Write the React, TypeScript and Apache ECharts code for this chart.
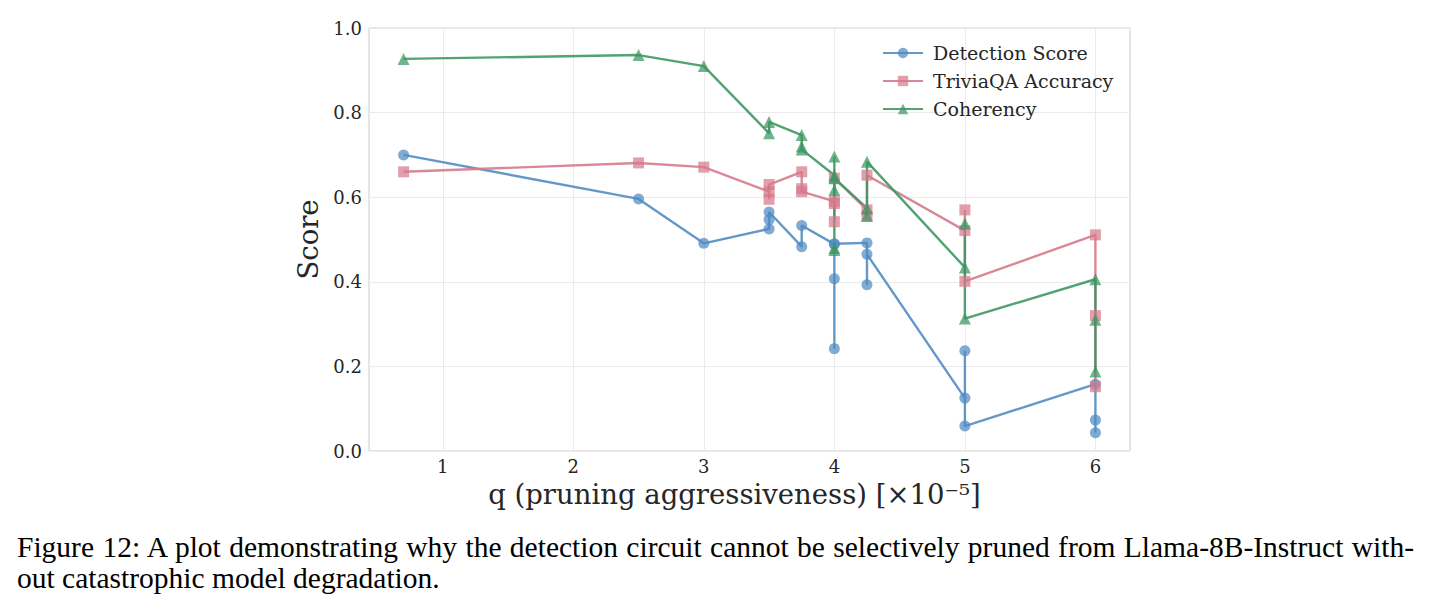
import React, { useEffect, useRef } from "react";
import * as echarts from "echarts";

// q values (×10⁻⁵) and scores for each run, in plotting order
const detectionX = [0.7, 2.5, 3, 3.5, 3.5, 3.5, 3.75, 3.75, 4, 4, 4, 4, 4.25, 4.25, 4.25, 5, 5, 5, 6, 6, 6];
const detectionY = [0.700, 0.596, 0.491, 0.525, 0.547, 0.565, 0.483, 0.533, 0.489, 0.242, 0.407, 0.490, 0.492, 0.393, 0.465, 0.125, 0.237, 0.059, 0.158, 0.073, 0.043];

const triviaX = [0.7, 2.5, 3, 3.5, 3.5, 3.5, 3.75, 3.75, 3.75, 4, 4, 4, 4, 4.25, 4.25, 4.25, 5, 5, 5, 6, 6, 6];
const triviaY = [0.660, 0.681, 0.671, 0.613, 0.595, 0.630, 0.660, 0.620, 0.613, 0.590, 0.585, 0.542, 0.645, 0.570, 0.555, 0.652, 0.521, 0.570, 0.401, 0.511, 0.320, 0.152];

const coherencyX = [0.7, 2.5, 3, 3.5, 3.5, 3.75, 3.75, 3.75, 4, 4, 4, 4, 4, 4, 4.25, 4.25, 4.25, 5, 5, 5, 6, 6, 6];
const coherencyY = [0.927, 0.936, 0.910, 0.751, 0.778, 0.747, 0.720, 0.713, 0.652, 0.696, 0.617, 0.480, 0.475, 0.645, 0.574, 0.556, 0.684, 0.434, 0.538, 0.313, 0.406, 0.310, 0.188];

const xTicks = [1, 2, 3, 4, 5, 6];

const captionLine1 =
  "Figure 12: A plot demonstrating why the detection circuit cannot be selectively pruned from Llama-8B-Instruct with-";
const captionLine2 = "out catastrophic model degradation.";

const FONT = "DejaVu Serif";
const TEXT = "#262626";

function pairs(xs: number[], ys: number[]) {
  return xs.map((x, i) => [x, ys[i]]);
}

function lineSeries(name: string, xs: number[], ys: number[], color: string, symbol: string, size: number) {
  return {
    name,
    type: "line",
    data: pairs(xs, ys),
    symbol,
    symbolSize: size,
    showAllSymbol: true,
    lineStyle: { color, width: 2.4, opacity: 0.88 },
    itemStyle: { color, opacity: 0.72 },
    emphasis: { disabled: true },
  };
}

export default function App() {
  const ref = useRef<HTMLDivElement>(null);

  useEffect(() => {
    if (!ref.current) return;
    const chart = echarts.init(ref.current, undefined, { renderer: "svg" });
    chart.setOption({
      animation: false,
      backgroundColor: "#ffffff",
      grid: {
        left: 369,
        top: 28,
        width: 761,
        height: 423,
        show: true,
        borderColor: "#cccccc",
        borderWidth: 1,
        backgroundColor: "#ffffff",
      },
      legend: {
        orient: "vertical",
        left: 877,
        top: 37,
        itemWidth: 40,
        itemHeight: 13,
        itemGap: 6,
        textStyle: { fontFamily: FONT, fontSize: 19, color: TEXT, lineHeight: 22, padding: [0, 0, 0, 5] },
        data: ["Detection Score", "TriviaQA Accuracy", "Coherency"],
      },
      xAxis: {
        type: "value",
        min: 0.435,
        max: 6.265,
        name: "q (pruning aggressiveness) [×10⁻⁵]",
        nameLocation: "middle",
        nameGap: 23,
        nameTextStyle: { fontFamily: FONT, fontSize: 27.5, color: TEXT, padding: [0, 30, 0, 0] },
        axisLine: { show: false },
        axisTick: { show: false, customValues: xTicks },
        axisLabel: {
          customValues: xTicks,
          fontFamily: FONT,
          fontSize: 18,
          color: TEXT,
          margin: 6,
          formatter: (v: number) => String(v),
        },
        splitLine: { show: true, lineStyle: { color: "#ebebeb", width: 1 } },
      },
      yAxis: {
        type: "value",
        min: 0,
        max: 1,
        interval: 0.2,
        name: "Score",
        nameLocation: "middle",
        nameGap: 32,
        nameTextStyle: { fontFamily: FONT, fontSize: 27.5, color: TEXT },
        axisLine: { show: false },
        axisTick: { show: false },
        axisLabel: {
          fontFamily: FONT,
          fontSize: 18,
          color: TEXT,
          margin: 7,
          formatter: (v: number) => v.toFixed(1),
        },
        splitLine: { show: true, lineStyle: { color: "#ebebeb", width: 1 } },
      },
      series: [
        lineSeries("Detection Score", detectionX, detectionY, "#4f8ac2", "circle", 11),
        lineSeries("TriviaQA Accuracy", triviaX, triviaY, "#d5788a", "rect", 11),
        lineSeries("Coherency", coherencyX, coherencyY, "#3a955f", "triangle", 12),
      ],
    });
    return () => chart.dispose();
  }, []);

  return (
    <div style={{ position: "fixed", left: 0, top: 0, width: 1435, height: 611, background: "#fff" }}>
      <div ref={ref} style={{ position: "absolute", left: 0, top: 0, width: 1435, height: 611 }} />
      <div
        style={{
          position: "absolute",
          left: 17,
          top: 532,
          width: 1397,
          fontFamily: "'Liberation Serif', 'Times New Roman', serif",
          fontSize: 29.5,
          lineHeight: "31px",
          color: "#000",
        }}
      >
        <div style={{ textAlign: "justify", textAlignLast: "justify", whiteSpace: "nowrap" as any }}>{captionLine1}</div>
        <div>{captionLine2}</div>
      </div>
    </div>
  );
}
